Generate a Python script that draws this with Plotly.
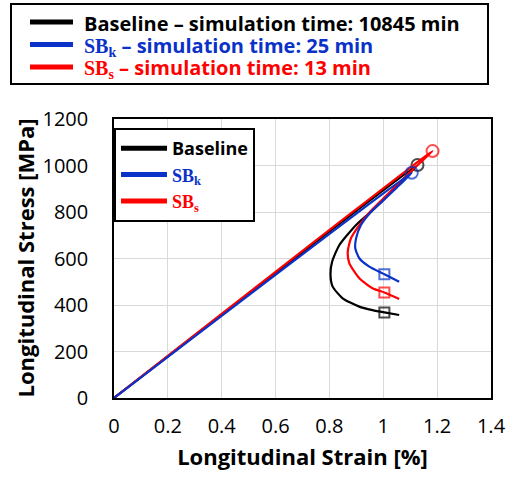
import plotly.graph_objects as go

# ---- data ----
base_strain = [0, 1.127, 1.06, 1.0, 0.95, 0.899, 0.837, 0.81, 0.804, 0.812, 0.849, 0.911, 0.96, 1.004, 1.059]
base_stress = [0, 1002, 925, 852, 797, 744, 658, 586, 529, 479, 429, 393, 378, 368, 357]

sbs_strain = [0, 1.183, 1.10, 1.0, 0.95, 0.911, 0.88, 0.868, 0.874, 0.911, 0.96, 1.004, 1.059]
sbs_stress = [0, 1062, 972, 858, 800, 744, 687, 629, 579, 515, 472, 454, 426]

sbk_strain = [0, 1.106, 1.05, 1.0, 0.95, 0.917, 0.899, 0.896, 0.911, 0.948, 1.004, 1.059]
sbk_stress = [0, 969, 905, 850, 795, 744, 687, 644, 601, 565, 532, 500]

# markers: peak (circle) and strain = 1 % (square)
base_mk_x = [1.127, 1.004]; base_mk_y = [1002, 368]
sbs_mk_x = [1.183, 1.004];  sbs_mk_y = [1062, 454]
sbk_mk_x = [1.106, 1.004];  sbk_mk_y = [969, 532]

x_ticks = [0, 0.2, 0.4, 0.6, 0.8, 1.0, 1.2, 1.4]
x_tick_labels = ["0", "0.2", "0.4", "0.6", "0.8", "1", "1.2", "1.4"]
y_ticks = [0, 200, 400, 600, 800, 1000, 1200]

BLACK = "#000000"
BLUE = "#0a32c8"
RED = "#ff0000"
SERIF = "Liberation Serif"
SANS = "Open Sans"

W, H = 507, 481
ML, MR, MT, MB = 114, 16, 119, 83
PW, PH = W - ML - MR, H - MT - MB


def px(x):  # pixel -> paper x
    return (x - ML) / PW


def py(y):  # pixel -> paper y
    return (H - MB - y) / PH


fig = go.Figure()

series = [
    (base_strain, base_stress, base_mk_x, base_mk_y, BLACK),
    (sbs_strain, sbs_stress, sbs_mk_x, sbs_mk_y, RED),
    (sbk_strain, sbk_stress, sbk_mk_x, sbk_mk_y, BLUE),
]
for sx, sy, mx, my, c in series:
    fig.add_trace(go.Scatter(x=sx, y=sy, mode="lines", line=dict(color=c, width=2.2, shape="spline", smoothing=0.6),
                             showlegend=False, hoverinfo="skip"))
    fig.add_trace(go.Scatter(x=mx, y=my, mode="markers",
                             marker=dict(symbol=["circle-open", "square-open"], size=[12, 10], color=c,
                                         line=dict(color=c, width=2)),
                             showlegend=False, hoverinfo="skip"))

# inner legend (native)
inner_names = [
    ("<b>Baseline</b>", BLACK),
    (f"<b><span style='color:{BLUE};font-family:{SERIF}'>SB<sub>k</sub></span></b>", BLUE),
    (f"<b><span style='color:{RED};font-family:{SERIF}'>SB<sub>s</sub></span></b>", RED),
]
for name, c in inner_names:
    fig.add_trace(go.Scatter(x=[None], y=[None], mode="lines", line=dict(color=c, width=5),
                             name=name))

# top legend (drawn as box + key lines + labels)
top_labels = [
    ("<b>Baseline – simulation time: 10845 min</b>", BLACK),
    (f"<b><span style='font-family:{SERIF}'>SB<sub>k</sub></span> – simulation time: 25 min</b>", BLUE),
    (f"<b><span style='font-family:{SERIF}'>SB<sub>s</sub></span> – simulation time: 13 min</b>", RED),
]
top_rows = [22, 44.5, 67]
shapes = [dict(type="rect", xref="paper", yref="paper", x0=px(11), x1=px(488), y0=py(84), y1=py(4),
               line=dict(color="black", width=2), fillcolor="white", layer="above")]
annotations = []
for (txt, c), r in zip(top_labels, top_rows):
    shapes.append(dict(type="line", xref="paper", yref="paper", x0=px(30), x1=px(73), y0=py(r), y1=py(r),
                       line=dict(color=c, width=5), layer="above"))
    annotations.append(dict(text=txt, xref="paper", yref="paper", x=px(82), y=py(r + 1), xanchor="left",
                            yanchor="middle", showarrow=False, font=dict(size=20, color=c, family=SANS)))

annotations.append(dict(text="<b>Longitudinal Stress [MPa]</b>", xref="paper", yref="paper",
                        x=px(24), y=0.5, textangle=-90, showarrow=False,
                        xanchor="center", yanchor="middle", font=dict(size=22)))

fig.update_layout(
    width=W, height=H,
    margin=dict(l=ML, r=MR, t=MT, b=MB, autoexpand=False),
    paper_bgcolor="white", plot_bgcolor="white",
    font=dict(family=SANS, size=19, color="black"),
    showlegend=True,
    legend=dict(xref="paper", yref="paper", x=0, y=0.968, xanchor="left", yanchor="top",
                bordercolor="black", borderwidth=2, bgcolor="white",
                font=dict(family=SANS, size=18, color="black"), itemwidth=46),
    xaxis=dict(range=[0, 1.4], tickvals=x_ticks, ticktext=x_tick_labels,
               showgrid=True, gridcolor="#d9d9d9", gridwidth=1, zeroline=False,
               showline=True, linecolor="black", linewidth=1.5, mirror=True,
               ticks="outside", ticklen=9, tickcolor="rgba(0,0,0,0)", automargin=False,
               tickfont=dict(size=20),
               title=dict(text="<b>Longitudinal Strain [%]</b>", font=dict(size=22), standoff=12)),
    yaxis=dict(range=[0, 1200], tickvals=y_ticks,
               showgrid=True, gridcolor="#d9d9d9", gridwidth=1, zeroline=False,
               showline=True, linecolor="black", linewidth=1.5, mirror=True,
               ticks="outside", ticklen=20, tickcolor="rgba(0,0,0,0)", automargin=False,
               tickfont=dict(size=20)),
    shapes=shapes,
    annotations=annotations,
)

fig.write_html("out.html", config={"displayModeBar": False},
               post_script="document.body.style.margin='0px';")
